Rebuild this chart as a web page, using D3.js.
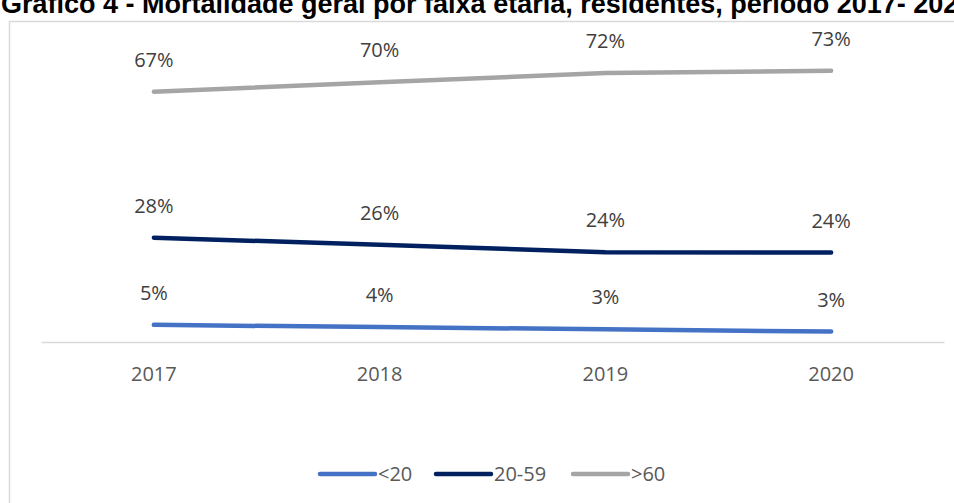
<!DOCTYPE html>
<html>
<head>
<meta charset="utf-8">
<script src="https://cdn.jsdelivr.net/npm/d3@7"></script>
<style>
  body { margin: 0; background: #fff; }
  svg { display: block; }
</style>
</head>
<body>
<div id="chart"></div>
<script>
// data
var years = ["2017", "2018", "2019", "2020"];
var seriesNames = ["<20", "20-59", ">60"];
var under20 = [0.046, 0.040, 0.034, 0.028];
var age20to59 = [0.280, 0.261, 0.241, 0.240];
var over60 = [0.672, 0.697, 0.722, 0.728];
var colors = ["#4472C4", "#002060", "#A5A5A5"];

var W = 954, H = 503;

var svg = d3.select("#chart").append("svg")
    .attr("width", W)
    .attr("height", H);

// title, partly cut off by the top edge (as in the source)
svg.append("text")
    .attr("x", 1)
    .attr("y", 13)
    .style("font-family", "Liberation Sans, Arial, sans-serif")
    .style("font-weight", "bold")
    .style("font-size", "27px")
    .attr("fill", "#000")
    .text("Gráfico 4 - Mortalidade geral por faixa etária, residentes, período 2017- 2020");

// chart frame
svg.append("rect")
    .attr("x", 9.5)
    .attr("y", 21.5)
    .attr("width", 1000)
    .attr("height", 600)
    .attr("fill", "none")
    .attr("stroke", "#D9D9D9")
    .attr("stroke-width", 1.5);

var x = d3.scaleBand()
    .domain(years)
    .range([41, 944]);

var y = d3.scaleLinear()
    .domain([0, 0.8])
    .range([342, 44]);

var fontFam = "'Open Sans', 'Noto Sans', sans-serif";

// category axis
var xAxis = svg.append("g")
    .attr("transform", "translate(0," + y(0) + ")")
    .call(d3.axisBottom(x).tickSize(0).tickPadding(25));
xAxis.select(".domain")
    .attr("stroke", "#D9D9D9")
    .attr("stroke-width", 1.5);
xAxis.selectAll("text")
    .attr("dy", "0.71em")
    .style("font-family", fontFam)
    .style("font-size", "20px")
    .attr("fill", "#595959");

var series = [under20, age20to59, over60].map(function (vals, i) {
    return {
        name: seriesNames[i],
        color: colors[i],
        values: vals.map(function (v, j) { return { year: years[j], value: v }; })
    };
});

var line = d3.line()
    .x(function (d) { return x(d.year) + x.bandwidth() / 2; })
    .y(function (d) { return y(d.value); });

var fmt = d3.format(".0%");

var g = svg.selectAll(".serie")
    .data(series)
    .enter()
    .append("g")
    .attr("class", "serie");

g.append("path")
    .attr("d", function (d) { return line(d.values); })
    .attr("fill", "none")
    .attr("stroke", function (d) { return d.color; })
    .attr("stroke-width", 4.5)
    .attr("stroke-linecap", "round")
    .attr("stroke-linejoin", "round");

g.selectAll(".lbl")
    .data(function (d) { return d.values; })
    .enter()
    .append("text")
    .attr("class", "lbl")
    .attr("x", function (d) { return x(d.year) + x.bandwidth() / 2; })
    .attr("y", function (d) { return y(d.value) - 25; })
    .attr("text-anchor", "middle")
    .style("font-family", fontFam)
    .style("font-size", "20px")
    .attr("fill", "#404040")
    .text(function (d) { return fmt(d.value); });

// legend
var legendX = [320, 436, 573];
var legend = svg.selectAll(".legend")
    .data(series)
    .enter()
    .append("g")
    .attr("class", "legend")
    .attr("transform", function (d, i) { return "translate(" + legendX[i] + ",474)"; });

legend.append("line")
    .attr("x1", 0)
    .attr("x2", 55)
    .attr("stroke", function (d) { return d.color; })
    .attr("stroke-width", 4.5)
    .attr("stroke-linecap", "round");

legend.append("text")
    .attr("x", 58)
    .attr("y", 7)
    .style("font-family", fontFam)
    .style("font-size", "20px")
    .attr("fill", "#595959")
    .text(function (d) { return d.name; });
</script>
</body>
</html>
